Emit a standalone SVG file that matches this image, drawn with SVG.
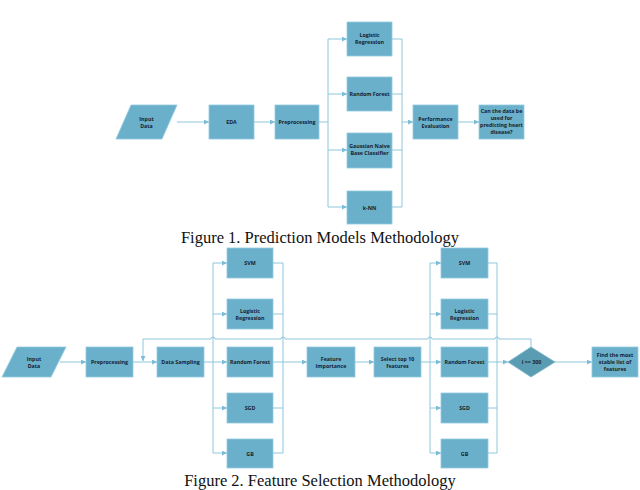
<svg xmlns="http://www.w3.org/2000/svg" width="640" height="490" viewBox="0 0 640 490">
<defs>
<marker id="ah" viewBox="0 0 10 10" refX="10" refY="5" markerWidth="5" markerHeight="5" orient="auto" markerUnits="userSpaceOnUse">
<path d="M0,0 L10,5 L0,10 z" fill="#7dbcd6"/>
</marker>
<style>
.box{fill:#6ab0ca;stroke:#93cadf;stroke-width:0.8}
.dia{fill:#5a9db3;stroke:#7fb6cb;stroke-width:0.8}
.t{font-family:"Open Sans","DejaVu Sans",sans-serif;font-size:5.3px;font-weight:700;fill:#16222f;text-anchor:middle}
.c{fill:none;stroke:#8dc6dc;stroke-width:1}
.a{fill:none;stroke:#8dc6dc;stroke-width:1;marker-end:url(#ah)}
.cap{font-family:"Liberation Serif","Times New Roman",serif;font-size:16.5px;fill:#111;text-anchor:middle}
</style>
</defs>
<rect width="640" height="490" fill="#ffffff"/>

<g id="connectors">
<!-- Figure 1 -->
<path class="a" d="M177,122 H209"/>
<path class="a" d="M254,122 H275"/>
<path class="c" d="M319,122 H328"/>
<path class="c" d="M328,39 V207"/>
<path class="a" d="M328,39 H347"/>
<path class="a" d="M328,94 H347"/>
<path class="a" d="M328,150 H347"/>
<path class="a" d="M328,207 H347"/>
<path class="c" d="M392,39 H402 M392,94 H402 M392,150 H402 M392,207 H402"/>
<path class="c" d="M402,39 V207"/>
<path class="a" d="M402,122 H413"/>
<path class="a" d="M458,122 H479"/>
<!-- Figure 2 -->
<path class="a" d="M60,362 H86"/>
<path class="a" d="M133,362 H157"/>
<path class="c" d="M204,362 H213"/>
<path class="c" d="M213,263 V453"/>
<path class="a" d="M213,263 H227"/>
<path class="a" d="M213,314 H227"/>
<path class="a" d="M213,362 H227"/>
<path class="a" d="M213,408 H227"/>
<path class="a" d="M213,453 H227"/>
<path class="c" d="M273,263 H283 M273,314 H283 M273,362 H283 M273,408 H283 M273,453 H283"/>
<path class="c" d="M283,263 V453"/>
<path class="a" d="M283,362 H307"/>
<path class="a" d="M355,362 H374"/>
<path class="c" d="M421,362 H430"/>
<path class="c" d="M430,263 V453"/>
<path class="a" d="M430,263 H441"/>
<path class="a" d="M430,314 H441"/>
<path class="a" d="M430,362 H441"/>
<path class="a" d="M430,408 H441"/>
<path class="a" d="M430,453 H441"/>
<path class="c" d="M488,263 H497 M488,314 H497 M488,362 H497 M488,408 H497 M488,453 H497"/>
<path class="c" d="M497,263 V453"/>
<path class="a" d="M497,362 H508"/>
<path class="a" d="M555,362 H592"/>
<!-- feedback loop with hops -->
<path class="a" d="M531,347 V339 H499 a2,2 0 0 0 -4,0 H432 a2,2 0 0 0 -4,0 H285 a2,2 0 0 0 -4,0 H215 a2,2 0 0 0 -4,0 H143 V361"/>
</g>

<!-- Figure 1 nodes -->
<g id="f1-input"><polygon class="box" points="131,105 177,105 162,139 116,139"/><text class="t" x="146.5" y="121">Input</text><text class="t" x="146.5" y="128">Data</text></g>
<g id="f1-eda"><rect class="box" x="209" y="105" width="45" height="34"/><text class="t" x="231.5" y="124">EDA</text></g>
<g id="f1-prep"><rect class="box" x="275" y="105" width="44" height="34"/><text class="t" x="297" y="124">Preprocessing</text></g>
<g id="f1-lr"><rect class="box" x="347" y="22" width="45" height="34"/><text class="t" x="369.5" y="37">Logistic</text><text class="t" x="369.5" y="44">Regression</text></g>
<g id="f1-rf"><rect class="box" x="347" y="77" width="45" height="34"/><text class="t" x="369.5" y="96">Random Forest</text></g>
<g id="f1-gnb"><rect class="box" x="347" y="133" width="45" height="35"/><text class="t" x="369.5" y="148">Gaussian Naive</text><text class="t" x="369.5" y="155">Base Classifier</text></g>
<g id="f1-knn"><rect class="box" x="347" y="191" width="45" height="33"/><text class="t" x="369.5" y="209.5">k-NN</text></g>
<g id="f1-perf"><rect class="box" x="413" y="105" width="45" height="34"/><text class="t" x="435.5" y="120.5">Performance</text><text class="t" x="435.5" y="127.5">Evaluation</text></g>
<g id="f1-can"><rect class="box" x="479" y="105" width="45" height="34"/><text class="t" x="501.5" y="113">Can the data be</text><text class="t" x="501.5" y="120">used for</text><text class="t" x="501.5" y="127">predicting heart</text><text class="t" x="501.5" y="134">disease?</text></g>
<text class="cap" x="320" y="243">Figure 1. Prediction Models Methodology</text>

<!-- Figure 2 nodes -->
<g id="f2-input"><polygon class="box" points="17,347 66,347 51,377 2,377"/><text class="t" x="34" y="360.5">Input</text><text class="t" x="34" y="367.5">Data</text></g>
<g id="f2-prep"><rect class="box" x="86" y="347" width="47" height="30"/><text class="t" x="109.5" y="364">Preprocessing</text></g>
<g id="f2-samp"><rect class="box" x="157" y="347" width="47" height="30"/><text class="t" x="180.5" y="364">Data Sampling</text></g>
<g id="f2-svm1"><rect class="box" x="227" y="248" width="46" height="30"/><text class="t" x="250" y="265">SVM</text></g>
<g id="f2-lr1"><rect class="box" x="227" y="299" width="46" height="30"/><text class="t" x="250" y="312.5">Logistic</text><text class="t" x="250" y="319.5">Regression</text></g>
<g id="f2-rf1"><rect class="box" x="227" y="347" width="46" height="30"/><text class="t" x="250" y="364">Random Forest</text></g>
<g id="f2-sgd1"><rect class="box" x="227" y="393" width="46" height="30"/><text class="t" x="250" y="410">SGD</text></g>
<g id="f2-gb1"><rect class="box" x="227" y="439" width="46" height="29"/><text class="t" x="250" y="455.5">GB</text></g>
<g id="f2-fi"><rect class="box" x="307" y="347" width="48" height="30"/><text class="t" x="331" y="360.5">Feature</text><text class="t" x="331" y="367.5">Importance</text></g>
<g id="f2-sel"><rect class="box" x="374" y="347" width="47" height="30"/><text class="t" x="397.5" y="360.5">Select top 10</text><text class="t" x="397.5" y="367.5">features</text></g>
<g id="f2-svm2"><rect class="box" x="441" y="248" width="47" height="30"/><text class="t" x="464.5" y="265">SVM</text></g>
<g id="f2-lr2"><rect class="box" x="441" y="299" width="47" height="30"/><text class="t" x="464.5" y="312.5">Logistic</text><text class="t" x="464.5" y="319.5">Regression</text></g>
<g id="f2-rf2"><rect class="box" x="441" y="347" width="47" height="30"/><text class="t" x="464.5" y="364">Random Forest</text></g>
<g id="f2-sgd2"><rect class="box" x="441" y="393" width="47" height="30"/><text class="t" x="464.5" y="410">SGD</text></g>
<g id="f2-gb2"><rect class="box" x="441" y="439" width="47" height="29"/><text class="t" x="464.5" y="455.5">GB</text></g>
<g id="f2-dec"><polygon class="dia" points="531,347 555,362 531,377 508,362"/><text class="t" x="531.5" y="364">i == 300</text></g>
<g id="f2-find"><rect class="box" x="592" y="347" width="46" height="30"/><text class="t" x="615" y="357">Find the most</text><text class="t" x="615" y="364">stable list of</text><text class="t" x="615" y="371">features</text></g>
<text class="cap" x="320" y="486">Figure 2. Feature Selection Methodology</text>
</svg>
